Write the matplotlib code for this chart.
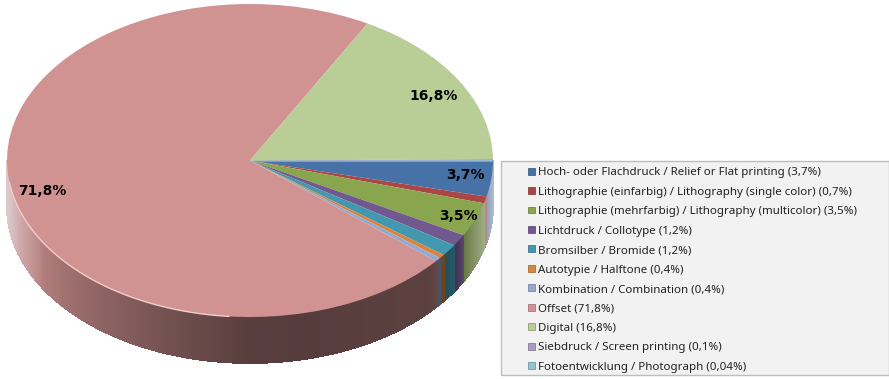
import numpy as np
import matplotlib
matplotlib.use("Agg")
import matplotlib.pyplot as plt
from matplotlib.colors import to_rgb
from matplotlib.patches import Rectangle, Patch

labels = [
    "Hoch- oder Flachdruck / Relief or Flat printing (3,7%)",
    "Lithographie (einfarbig) / Lithography (single color) (0,7%)",
    "Lithographie (mehrfarbig) / Lithography (multicolor) (3,5%)",
    "Lichtdruck / Collotype (1,2%)",
    "Bromsilber / Bromide (1,2%)",
    "Autotypie / Halftone (0,4%)",
    "Kombination / Combination (0,4%)",
    "Offset (71,8%)",
    "Digital (16,8%)",
    "Siebdruck / Screen printing (0,1%)",
    "Fotoentwicklung / Photograph (0,04%)",
]
values = [3.7, 0.7, 3.5, 1.2, 1.2, 0.4, 0.4, 71.8, 16.8, 0.1, 0.04]
colors = ["#4672a8", "#aa4644", "#89a54e", "#71588f", "#4198af", "#db843d",
          "#93a9cf", "#d19392", "#b9cd96", "#a99bbd", "#92c5d8"]
shown_pct = {0: "3,7%", 2: "3,5%", 7: "71,8%", 8: "16,8%"}

W, H = 889, 379
cx, cy, rx, ry, depth = 250, 160.5, 243, 156.5, 46

fig = plt.figure(figsize=(W / 100, H / 100), dpi=100)
ax = fig.add_axes([0, 0, 1, 1])
ax.pie(values, colors=colors, startangle=0, counterclock=False, radius=1,
       wedgeprops={"linewidth": 0}, frame=False)
ax.set_aspect("auto")
ax.set_xlim(-cx / rx, (W - cx) / rx)
ax.set_ylim((cy - H) / ry, cy / ry)
ax.axis("off")

# side wall of the 3d pie, vertical strips under the front rim
fracs = np.array(values) / sum(values)
edges = np.concatenate([[0], np.cumsum(fracs)]) * 2 * np.pi
d = depth / ry
shade_x = [-1, -.95, -.78, -.62, -.29, 0, .2, .74, .82, .9, .97, 1]
shade_y = [1, .95, .78, .68, .53, .42, .41, .44, .55, .7, .85, .9]
haze_x = [0, .85, .95, 1]
haze_y = [0, 0, .35, .7]
for i, c in enumerate(colors):
    a0, a1 = edges[i], min(edges[i + 1], np.pi)
    if a0 >= np.pi:
        continue
    t = np.linspace(a0, a1, max(int((a1 - a0) * 200), 2))
    base = np.array(to_rgb(c))
    for t0, t1 in zip(t[:-1], t[1:]):
        xm = np.cos((t0 + t1) / 2)
        col = base * np.interp(xm, shade_x, shade_y)
        col = np.clip(col, 0, 1)
        col = col + (np.array([0.88, 0.88, 0.9]) - col) * np.interp(abs(xm), haze_x, haze_y)
        xs = [np.cos(t0), np.cos(t1), np.cos(t1), np.cos(t0)]
        ys = [-np.sin(t0), -np.sin(t1), -np.sin(t1) - d, -np.sin(t0) - d]
        ax.fill(xs, ys, color=col, lw=0.6, antialiased=False, zorder=0)

# light rim on the left of the offset slice and on the top of the blue one
a = np.linspace(np.radians(95), np.radians(172), 200)
ax.plot(np.cos(a), -np.sin(a), color="#f3cdcc", lw=1, zorder=3)
ax.plot([0.02, 1], [0, 0], color="#7f9fc6", lw=0.8, zorder=3)

# percent labels
label_pos = {0: (465, 175), 2: (458, 216), 7: (42, 191), 8: (434, 96)}
for i, txt in shown_pct.items():
    px, py = label_pos[i]
    ax.text((px - cx) / rx, (cy - py) / ry, txt, ha="center", va="center",
            fontsize=10, fontweight="bold", family="DejaVu Sans", color="black", zorder=5)

# legend box
fig.add_artist(Rectangle((501.5 / W, 1 - 375 / H), 388 / W, 214 / H, transform=fig.transFigure,
                         facecolor="#f2f2f2", edgecolor="#bdbdbd", lw=1))
handles = [Patch(facecolor=c, edgecolor=np.array(to_rgb(c)) * 0.7, lw=0.5) for c in colors]
fig.legend(handles, labels, loc="upper left", bbox_to_anchor=(523 / W, 1 - 162.5 / H),
           frameon=False, prop={"family": "Noto Sans", "size": 8.3},
           handlelength=0.62, handleheight=0.55, handletextpad=0.24,
           labelspacing=0.736, borderpad=0.4, borderaxespad=0, labelcolor="#222222")

fig.savefig("out.png", dpi=100)
